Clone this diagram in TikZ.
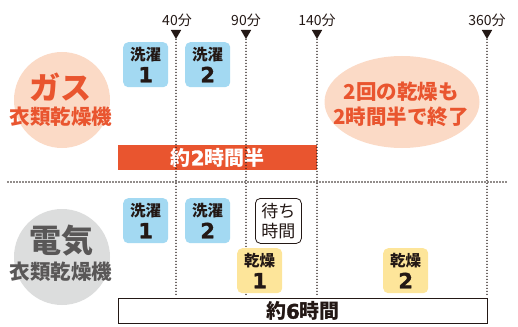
\documentclass[tikz,border=0pt]{standalone}
\usepackage{fontspec}
\setmainfont{Noto Sans CJK JP}
\newfontfamily\heavy{DejaVu Sans}[BoldFeatures={FakeBold=1.5}]
\usetikzlibrary{shapes.geometric}
\definecolor{orng}{HTML}{E9552F}
\definecolor{peach}{HTML}{FBDAC6}
\definecolor{lblue}{HTML}{A3D9F2}
\definecolor{lyel}{HTML}{FDE59A}
\definecolor{lgray}{HTML}{DCDDDD}
\definecolor{dgray}{HTML}{595757}
\definecolor{ink}{HTML}{231815}
\newcommand{\fs}[1]{\fontsize{#1}{#1}\selectfont}
\newcommand{\dig}[2]{{\heavy\bfseries\fontsize{#1}{#1}\selectfont #2}}
\begin{document}
\begin{tikzpicture}[x=1pt,y=-1pt,
  ticklab/.style={font=\fs{14}, text=ink, inner sep=0},
  marker/.style={regular polygon, regular polygon sides=3, shape border rotate=180, fill=ink, inner sep=0, minimum size=12},
  dotline/.style={ink, line width=1.6pt, dash pattern=on 0pt off 3pt, line cap=round},
  tbox/.style={rounded corners=5, minimum width=45, minimum height=45, inner sep=0, align=center, text=ink, font=\fontsize{15.5}{22}\selectfont\bfseries},
  washbox/.style={tbox, fill=lblue},
  drybox/.style={tbox, fill=lyel}
]
\useasboundingbox (0,0) rectangle (518,326);

% circles
\node[circle, fill=peach, minimum size=96, inner sep=0] (gascirc) at (62,100) {};
\node[text=orng, font=\fs{31}\bfseries, inner sep=0] (gas) at (60,87) {ガス};
\node[text=orng, font=\fs{20.5}\bfseries, inner sep=0] (gasl) at (61,117) {衣類乾燥機};

\node[circle, fill=lgray, minimum size=96, inner sep=0] (elcirc) at (62,257) {};
\node[text=dgray, font=\fs{32}\bfseries, inner sep=0] (el) at (61,241) {電気};
\node[text=dgray, font=\fs{20.5}\bfseries, inner sep=0] (ell) at (61,272) {衣類乾燥機};

% right ellipse
\node[ellipse, fill=peach, minimum width=155, minimum height=92, inner sep=0] (note) at (402,102) {};
\node[text=orng, font=\fontsize{20.5}{25}\selectfont\bfseries, align=center, inner sep=0] (notet) at (401,104) {2回の乾燥も\\2時間半で終了};

% bars
\node[fill=orng, minimum width=199, minimum height=25, inner sep=0, anchor=north west] (gasbar) at (118,145) {};
\node[text=white, font=\fs{20}\bfseries, inner sep=0] (gasbart) at (gasbar.center) {約\dig{20}{2}時間半};
\node[draw=ink, line width=1pt, fill=white, minimum width=369, minimum height=25, inner sep=0, anchor=north west] (elbar) at (118,298) {};
\node[text=ink, font=\fs{20}\bfseries, inner sep=0] (elbart) at (elbar.center) {約\dig{20}{6}時間};

% tick labels and markers
\node[ticklab] (t40) at (177,20) {40分};
\node[ticklab] (t90) at (246,20) {90分};
\node[ticklab] (t140) at (317,20) {140分};
\node[ticklab] (t360) at (487,20) {360分};
\node[marker] (m40) at (176,33) {};
\node[marker] (m90) at (246,33) {};
\node[marker] (m140) at (317,33) {};
\node[marker] (m360) at (487,33) {};
\coordinate (b40) at (176,297);
\coordinate (b90) at (246,297);
\coordinate (b140) at (317,297);
\coordinate (b360) at (487,297);
\draw[dotline] (m40.south) -- (b40);
\draw[dotline] (m90.south) -- (b90);
\draw[dotline] (m140.south) -- (b140);
\draw[dotline] (m360.south) -- (b360);
\coordinate (hl) at (8,182);
\coordinate (hr) at (507,182);
\draw[dotline] (hl) -- (hr);

% boxes top
\node[washbox, anchor=north west] (w1a) at (123,42) {洗濯\\\dig{21}{1}};
\node[washbox, anchor=north west] (w2a) at (185,42) {洗濯\\\dig{21}{2}};
% boxes bottom
\node[washbox, anchor=north west] (w1b) at (123,198) {洗濯\\\dig{21}{1}};
\node[washbox, anchor=north west] (w2b) at (185,198) {洗濯\\\dig{21}{2}};
\node[tbox, draw=ink, line width=0.8pt, fill=white, anchor=north west, minimum width=46, font=\fontsize{17}{20}\selectfont] (wait) at (255,198) {待ち\\時間};
\node[drybox, anchor=north west] (d1) at (237,248) {乾燥\\\dig{21}{1}};
\node[drybox, anchor=north west] (d2) at (383,248) {乾燥\\\dig{21}{2}};
\end{tikzpicture}
\end{document}
